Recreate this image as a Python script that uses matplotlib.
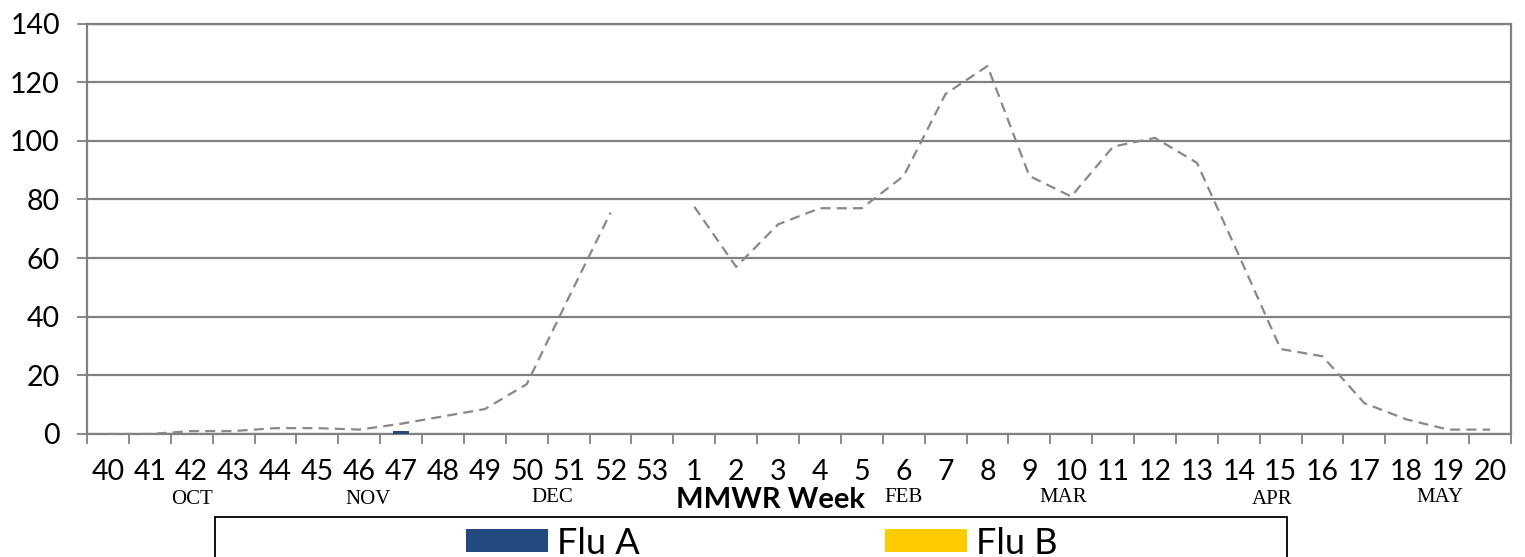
import numpy as np
import matplotlib
matplotlib.use("Agg")
import matplotlib.pyplot as plt
from matplotlib.patches import Rectangle
from matplotlib.ticker import FixedLocator

weeks = [str(w) for w in range(40, 54)] + [str(w) for w in range(1, 21)]
flu_a = [0, 0, 0, 0, 0, 0, 0, 1, 0, 0, 0, 0, 0, 0,
         0, 0, 0, 0, 0, 0, 0, 0, 0, 0, 0, 0, 0, 0, 0, 0, 0, 0, 0, 0]
flu_b = [0] * 34
comparison = [0, 0, 1, 1, 2, 2, 1.5, 3.5, 6, 8.5, 17, 46.5, 75.5, np.nan,
              77.5, 57, 71.5, 77, 77, 88, 116, 125.5, 88, 81, 98, 101, 92.5,
              61, 29, 26.5, 10.5, 5, 1.5, 1.5]
yticks = [0, 20, 40, 60, 80, 100, 120, 140]
months = ["OCT", "NOV", "DEC", "FEB", "MAR", "APR", "MAY"]
month_pos = [2.0, 6.2, 10.6, 19.0, 22.8, 27.8, 31.8]
month_y = [499, 499, 498, 497, 498, 500, 497]

SANS = ["Lato", "DejaVu Sans"]
GRAY = "#808080"

fig = plt.figure(figsize=(15.25, 5.57), dpi=100)
H = 557.0
ax = fig.add_axes([87 / 1525, 1 - 434 / H, (1511 - 87) / 1525, (434 - 23.5) / H])

x = np.arange(len(weeks))
ax.plot(x, comparison, color="#888888", lw=1.6, ls=(0, (4.5, 2.8)), zorder=3)
ba = ax.bar(x, flu_a, width=0.4, color="#224a7e", zorder=4, label="Flu A")
bb = ax.bar(x, flu_b, width=0.4, bottom=flu_a, color="#ffcc00", zorder=4, label="Flu B")

ax.set_xlim(-0.5, len(weeks) - 0.5)
ax.set_ylim(0, 140)
ax.set_yticks(yticks)
ax.yaxis.grid(True, color=GRAY, lw=1.6)
ax.set_axisbelow(True)
ax.set_xticks(x)
ax.set_xticklabels(weeks, fontsize=20.5, family=SANS)
ax.xaxis.set_minor_locator(FixedLocator(np.arange(-0.5, len(weeks), 1.0)))
ax.tick_params(axis="x", which="major", length=0, pad=18)
ax.tick_params(axis="x", which="minor", length=7.5, width=1.3, color=GRAY)
ax.tick_params(axis="y", length=7.5, width=1.3, color=GRAY, pad=12)
for t in ax.get_yticklabels():
    t.set_fontsize(20.5)
    t.set_family(SANS)
for s in ax.spines.values():
    s.set_color(GRAY)
    s.set_linewidth(1.6)

ax.set_xlabel("MMWR Week", fontsize=21, fontweight="bold", family=SANS, va="center")
ax.xaxis.set_label_coords((771 - 87) / 1424, (434 - 500) / 410.5)

trans = ax.get_xaxis_transform()
for m, p, yy in zip(months, month_pos, month_y):
    ax.text(p, (434 - yy) / 410.5, m, transform=trans, ha="center", va="center",
            fontsize=15, family="Liberation Serif")

fig.patches.append(Rectangle((215 / 1525, -0.1), (1287 - 215) / 1525, 0.1 + 1 - 517 / H,
                             transform=fig.transFigure, fill=False, ec="black", lw=1.3))
fig.legend(handles=[ba, bb], labels=["Flu A", "Flu B"], ncol=2, frameon=False,
           loc="center left", bbox_to_anchor=(466 / 1525, 1 - 543 / H),
           borderaxespad=0, borderpad=0, prop={"family": SANS, "size": 26},
           handlelength=2.27, handleheight=0.62, handletextpad=0.25, columnspacing=6.8)

fig.savefig("out.png", dpi=100)
